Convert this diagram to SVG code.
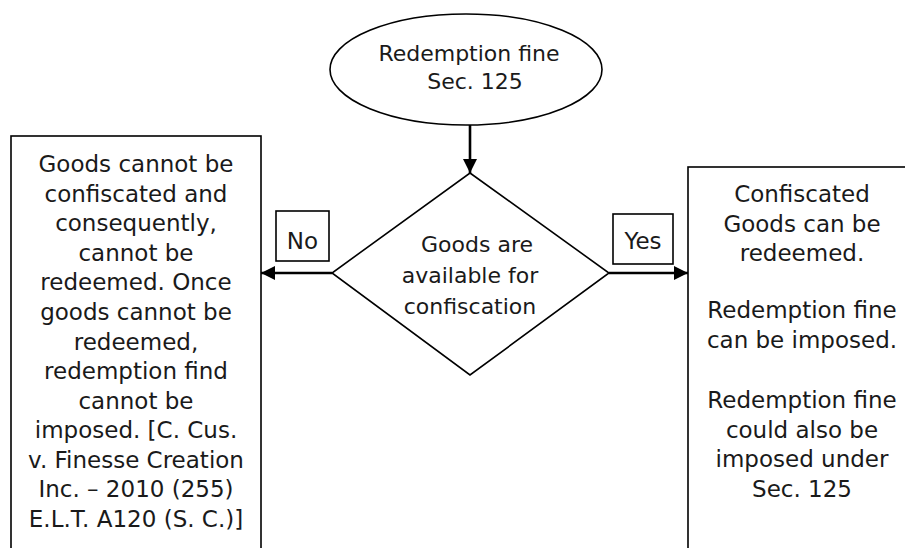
<svg xmlns="http://www.w3.org/2000/svg" width="905" height="548" viewBox="0 0 905 548">
<defs>
<marker id="ah" markerUnits="userSpaceOnUse" markerWidth="16" markerHeight="14" refX="14" refY="7" orient="auto">
<path d="M0,0 L14,7 L0,14 Z" fill="#000"/>
</marker>
<style>
.s{fill:#fff;stroke:#000;stroke-width:1.6}
.t{font-family:"DejaVu Sans","Liberation Sans",sans-serif;font-size:23px;fill:#1a1a1a;text-anchor:middle}
.tm{font-size:22px}
.c{stroke:#000;stroke-width:2.6;fill:none;marker-end:url(#ah)}
</style>
</defs>
<rect width="905" height="548" fill="#fff"/>
<g id="start">
<ellipse class="s" cx="466" cy="69.5" rx="136" ry="55.5"/>
<text class="t tm" x="469" y="61">Redemption fine</text>
<text class="t tm" x="475" y="89">Sec. 125</text>
</g>
<g id="decision">
<polygon class="s" points="470,173 609,273 470,375 332,273"/>
<text class="t tm" x="477" y="252">Goods are</text>
<text class="t tm" x="470" y="283">available for</text>
<text class="t tm" x="470" y="314">confiscation</text>
</g>
<g id="no-box">
<rect class="s" x="11" y="136" width="250" height="430"/>
<text class="t" x="136" y="172">Goods cannot be</text>
<text class="t" x="136" y="201.6">confiscated and</text>
<text class="t" x="136" y="231.2">consequently,</text>
<text class="t" x="136" y="260.7">cannot be</text>
<text class="t" x="136" y="290.3">redeemed. Once</text>
<text class="t" x="136" y="319.9">goods cannot be</text>
<text class="t" x="136" y="349.5">redeemed,</text>
<text class="t" x="136" y="379.1">redemption find</text>
<text class="t" x="136" y="408.7">cannot be</text>
<text class="t" x="136" y="438.2">imposed. [C. Cus.</text>
<text class="t" x="136" y="467.8">v. Finesse Creation</text>
<text class="t" x="136" y="497.4">Inc. – 2010 (255)</text>
<text class="t" x="136" y="527">E.L.T. A120 (S. C.)]</text>
</g>
<g id="yes-box">
<rect class="s" x="688" y="167" width="240" height="400"/>
<text class="t" x="802" y="202">Confiscated</text>
<text class="t" x="802" y="232">Goods can be</text>
<text class="t" x="802" y="261">redeemed.</text>
<text class="t" x="802" y="318">Redemption fine</text>
<text class="t" x="802" y="348">can be imposed.</text>
<text class="t" x="802" y="408">Redemption fine</text>
<text class="t" x="802" y="438">could also be</text>
<text class="t" x="802" y="467">imposed under</text>
<text class="t" x="802" y="497">Sec. 125</text>
</g>
<g id="label-no">
<rect class="s" x="276" y="211" width="53" height="50"/>
<text class="t" x="302.5" y="249">No</text>
</g>
<g id="label-yes">
<rect class="s" x="613" y="214" width="60" height="50"/>
<text class="t" x="643" y="249">Yes</text>
</g>
<g id="connectors">
<line class="c" x1="470" y1="125" x2="470" y2="173"/>
<line class="c" x1="332" y1="273" x2="261" y2="273"/>
<line class="c" x1="609" y1="273" x2="688" y2="273"/>
</g>
</svg>
